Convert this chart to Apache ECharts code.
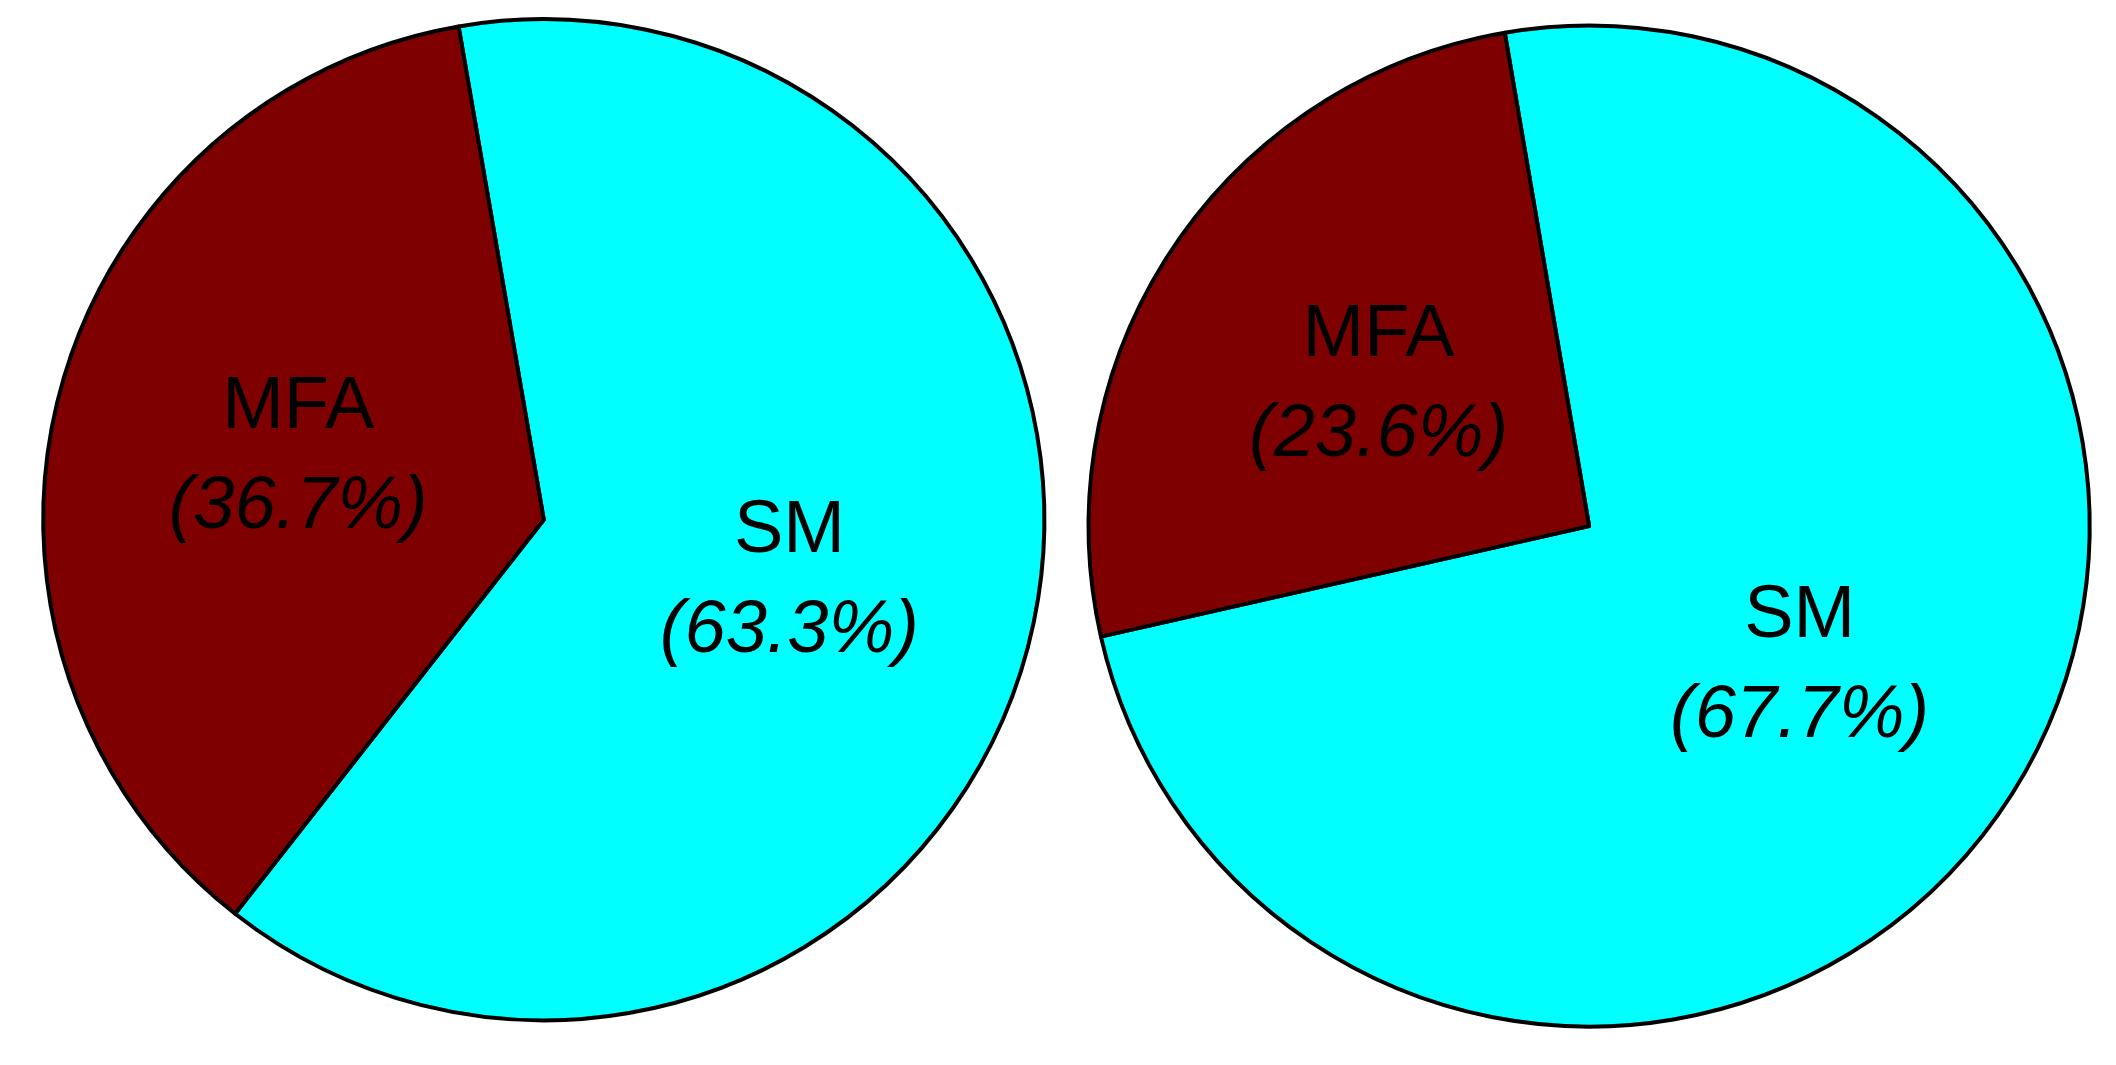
<!DOCTYPE html>
<html>
<head>
<meta charset="UTF-8">
<title>pie</title>
<style>html,body{margin:0;background:#fff}</style>
</head>
<body>
<div id="demo" style="width:2116px;height:1065px;"></div>
<script src="https://cdn.jsdelivr.net/npm/echarts@6/dist/echarts.min.js"></script>
<script>
var names = ['SM', 'MFA'];
var valuesA = [63.3, 36.7];
var valuesB = [67.7, 23.6];
var colors = ['#00ffff', '#7f0000'];
var panelLabels = ['(a)', '(b)'];

function makeData(vals) {
    return vals.map(function (v, i) {
        return {name: names[i], value: v, itemStyle: {color: colors[i]}};
    });
}
var labelOpt = {
    show: true,
    position: 'inside',
    formatter: function (p) { return '{n|' + p.name + '}\n{p|(' + p.value.toFixed(1) + '%)}'; },
    rich: {
        n: {fontSize: 74, fontFamily: 'Liberation Sans', color: '#000', lineHeight: 100},
        p: {fontSize: 74, fontFamily: 'Liberation Sans', fontStyle: 'italic', color: '#000', lineHeight: 100}
    }
};
var myChart = echarts.init(document.getElementById('demo'));
var option = {
    animation: false,
    series: [
        {
            type: 'pie', center: ['25.7%', '48.8%'], radius: '94%', startAngle: 99.8,
            label: labelOpt, labelLine: {show: false},
            itemStyle: {borderColor: '#000', borderWidth: 4},
            emphasis: {disabled: true},
            data: makeData(valuesA)
        },
        {
            type: 'pie', center: ['75.1%', '49.4%'], radius: '94%', startAngle: 99.7,
            label: labelOpt, labelLine: {show: false},
            itemStyle: {borderColor: '#000', borderWidth: 4},
            emphasis: {disabled: true},
            data: makeData(valuesB)
        }
    ],
    graphic: [
        {type: 'text', left: 485, top: 480, style: {text: panelLabels[0], font: '74px Liberation Sans', fill: '#000'}},
        {type: 'text', left: 1530, top: 485, style: {text: panelLabels[1], font: '74px Liberation Sans', fill: '#000'}}
    ]
};
myChart.setOption(option);
</script>
</body>
</html>
